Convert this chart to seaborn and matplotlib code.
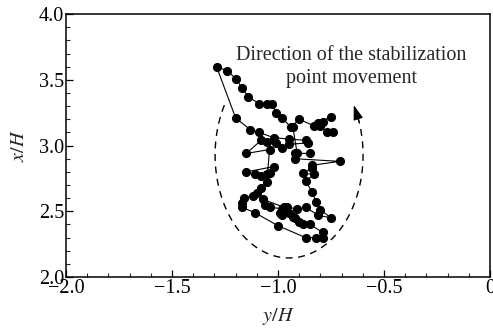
import numpy as np
import pandas as pd
import matplotlib
matplotlib.use("Agg")
import matplotlib.pyplot as plt
import seaborn as sns

# trajectory of the stabilization point (y/H, x/H)
y_over_H = [-0.74, -0.77, -0.80, -0.79, -0.75, -0.81, -0.83, -0.90, -0.94, -0.98,
            -1.01, -1.03, -1.05, -1.09, -1.14, -1.17, -1.20, -1.24, -1.29,
            -1.20, -1.13, -1.09, -1.02, -0.95, -0.87, -0.86, -0.95, -0.98, -1.01,
            -1.05, -1.08, -1.15, -1.04, -1.05, -1.08, -1.11, -1.15, -1.02, -1.04,
            -1.05, -1.08, -1.10, -1.12, -1.16, -1.17, -1.17, -1.11, -1.00, -0.87,
            -0.82, -0.79, -0.79, -0.85, -0.88, -0.90, -0.92, -0.93, -0.95, -0.98,
            -0.99, -0.98, -1.04, -1.06, -1.07, -0.97, -0.96, -0.91, -0.87, -0.81,
            -0.75, -0.80, -0.82, -0.84, -0.87, -0.83, -0.88, -0.84, -0.84, -0.71,
            -0.92, -0.92, -0.85, -0.91, -0.93]
x_over_H = [3.10, 3.10, 3.15, 3.18, 3.22, 3.17, 3.15, 3.20, 3.14, 3.21,
            3.25, 3.32, 3.32, 3.32, 3.37, 3.44, 3.51, 3.57, 3.60,
            3.21, 3.12, 3.10, 3.06, 3.05, 3.04, 3.02, 3.01, 2.98, 3.02,
            3.03, 3.04, 2.94, 2.97, 2.78, 2.77, 2.78, 2.80, 2.84, 2.79,
            2.72, 2.68, 2.64, 2.62, 2.60, 2.56, 2.53, 2.49, 2.39, 2.30,
            2.30, 2.30, 2.34, 2.40, 2.40, 2.42, 2.45, 2.46, 2.49, 2.47,
            2.49, 2.52, 2.53, 2.55, 2.59, 2.53, 2.53, 2.52, 2.53, 2.47,
            2.45, 2.51, 2.57, 2.65, 2.73, 2.78, 2.79, 2.83, 2.85, 2.88,
            2.90, 2.94, 2.94, 2.94, 3.14]

x_ticks = [-2.0, -1.5, -1.0, -0.5, 0.0]
x_tick_labels = ["\u22122.0", "\u22121.5", "\u22121.0", "\u22120.5", "0"]
y_ticks = [2.0, 2.5, 3.0, 3.5, 4.0]
y_tick_labels = ["2.0", "2.5", "3.0", "3.5", "4.0"]
annotation = "Direction of the stabilization\npoint movement"

sns.set_style("ticks")
plt.rcParams["font.family"] = ["Liberation Serif", "DejaVu Serif"]
plt.rcParams["mathtext.fontset"] = "stix"

fig = plt.figure(figsize=(4.93, 3.29), dpi=100)
ax = fig.add_axes([0.134, 0.158, 0.860, 0.799])

df = pd.DataFrame({"y": y_over_H, "x": x_over_H})
sns.lineplot(data=df, x="y", y="x", sort=False, estimator=None, ax=ax,
             color="black", linewidth=0.8, marker="o", markersize=5.8,
             markeredgecolor="black", markerfacecolor="black")

# dashed direction ellipse with arrow
cx, cy, rx, ry = -0.948, 2.928, 0.349, 0.783
th = np.radians(np.linspace(151, 381, 300))
ax.plot(cx + rx * np.cos(th), cy + ry * np.sin(th), color="black",
        linestyle=(0, (5, 4)), linewidth=1.0)
t0, t1 = np.radians(379), np.radians(389)
ax.annotate("", xy=(cx + rx * np.cos(t1), cy + ry * np.sin(t1)),
            xytext=(cx + rx * np.cos(t0), cy + ry * np.sin(t0)),
            arrowprops=dict(arrowstyle="-|>,head_length=0.9,head_width=0.3",
                            color="black", lw=0.8, shrinkA=0, shrinkB=0))

ax.text(-0.655, 3.60, annotation, ha="center", va="center", fontsize=14.5,
        linespacing=1.3)

ax.set_xlim(-2.0, 0.0)
ax.set_ylim(2.0, 4.0)
ax.set_xticks(x_ticks)
ax.set_xticklabels(x_tick_labels)
ax.set_yticks(y_ticks)
ax.set_yticklabels(y_tick_labels)
ax.xaxis.set_minor_locator(matplotlib.ticker.MultipleLocator(0.1))
ax.yaxis.set_minor_locator(matplotlib.ticker.MultipleLocator(0.1))
ax.tick_params(which="major", direction="in", length=5, width=0.9,
               labelsize=14.5, pad=1.5, colors="black")
ax.tick_params(which="minor", direction="in", length=3, width=0.8)
ax.set_xlabel("$y/H$", fontsize=14.5, labelpad=6)
ax.set_ylabel("$x/H$", fontsize=14.5, labelpad=7)
for s in ax.spines.values():
    s.set_visible(True)
    s.set_color("black")
    s.set_linewidth(1.1)

fig.savefig("out.png", dpi=100)
